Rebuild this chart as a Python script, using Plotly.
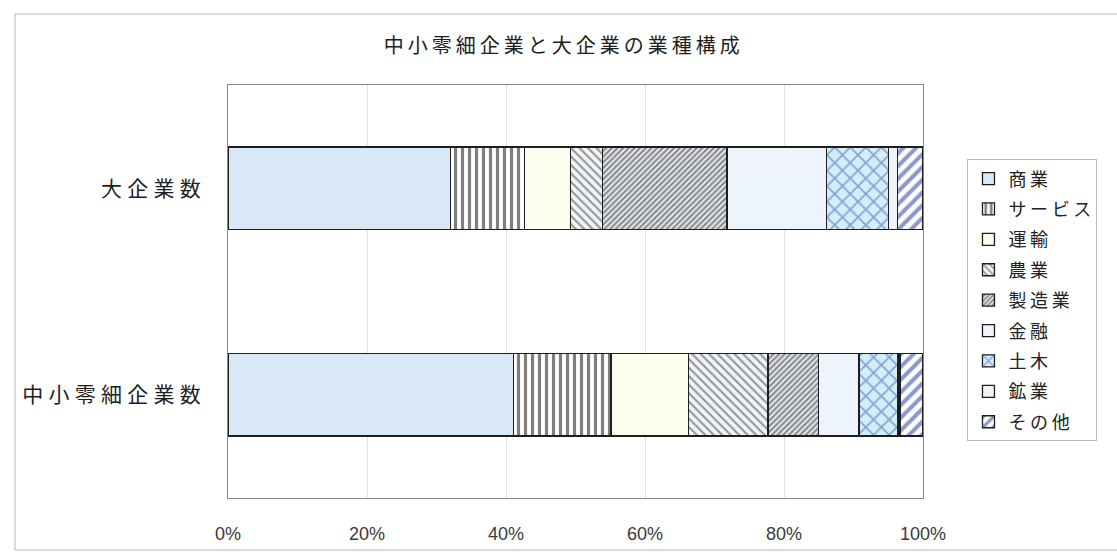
import plotly.graph_objects as go

categories = ["中小零細企業数", "大企業数"]
industries = ["商業", "サービス", "運輸", "農業", "製造業", "金融", "土木", "鉱業", "その他"]
# shares (%) : [中小零細企業数, 大企業数]
shokyo = [41.1, 32.0]
service = [14.0, 10.7]
unyu = [11.2, 6.6]
nogyo = [11.4, 4.6]
seizo = [7.3, 17.9]
kinyu = [5.8, 14.3]
doboku = [5.6, 8.9]
kogyo = [0.3, 1.3]
sonota = [3.3, 3.7]
values = [shokyo, service, unyu, nogyo, seizo, kinyu, doboku, kogyo, sonota]
x_ticks = [0, 20, 40, 60, 80, 100]
x_labels = ["0%", "20%", "40%", "60%", "80%", "100%"]
title_text = "中小零細企業と大企業の業種構成"


def spaced(s, sep):
    return sep.join(list(s))


styles = [
    dict(color="#d9e8f6", pattern=None),
    dict(color="#ffffff", pattern=dict(shape="|", fgcolor="#000000", bgcolor="#ffffff", size=7, solidity=0.45, fillmode="overlay")),
    dict(color="#fdfdee", pattern=None),
    dict(color="#ffffff", pattern=dict(shape="\\", fgcolor="#333333", bgcolor="#f2f5f8", size=6, solidity=0.35, fillmode="overlay")),
    dict(color="#ffffff", pattern=dict(shape="/", fgcolor="#222222", bgcolor="#e6eaee", size=4, solidity=0.5, fillmode="overlay")),
    dict(color="#eef4fb", pattern=None),
    dict(color="#d6ecf8", pattern=dict(shape="x", fgcolor="#2f62a8", bgcolor="#d6ecf8", size=11, solidity=0.3, fillmode="overlay")),
    dict(color="#eef3f8", pattern=None),
    dict(color="#ffffff", pattern=dict(shape="/", fgcolor="#1a2f9e", bgcolor="#ffffff", size=9, solidity=0.45, fillmode="overlay")),
]

fig = go.Figure()
for i, (name, vals, st) in enumerate(zip(industries, values, styles)):
    marker = dict(color=st["color"], line=dict(color="#1e1e1e", width=1.3))
    if st["pattern"]:
        marker["pattern"] = st["pattern"]
    fig.add_trace(go.Bar(
        y=categories, x=vals, name=spaced(name, "\u2009"), orientation="h",
        marker=marker, width=0.4, legendgroup=name,
    ))

ycat_text = [spaced(c, "\u2005") for c in categories]

fig.update_layout(
    barmode="stack",
    width=1117, height=558,
    margin=dict(l=228, r=194, t=85, b=60),
    paper_bgcolor="white", plot_bgcolor="white",
    font=dict(family="Noto Sans CJK JP", size=15, color="#222222"),
    title=dict(text=spaced(title_text, "\u2009"), x=0.503, xanchor="center", y=0.918, yanchor="middle",
               font=dict(family="Noto Sans CJK JP", size=20, color="#1e1e1e")),
    legend=dict(x=1.064, xanchor="left", y=0.82, yanchor="top",
                bordercolor="#bbbbbb", borderwidth=1, traceorder="grouped",
                tracegroupgap=4, itemwidth=30,
                font=dict(family="Noto Sans CJK JP", size=18, color="#222222")),
    showlegend=True,
    shapes=[dict(type="rect", xref="paper", yref="paper",
                 x0=-0.3065, x1=1.3, y0=-0.126, y1=1.172,
                 line=dict(color="#d0d0d0", width=1.5), fillcolor="rgba(0,0,0,0)", layer="below")],
)
fig.update_xaxes(range=[0, 100], tickvals=x_ticks, ticktext=x_labels,
                 showgrid=True, gridcolor="#e0e0e0", gridwidth=1,
                 showline=True, linecolor="#888888", mirror=True, zeroline=False,
                 ticklabelstandoff=19,
                 tickfont=dict(family="Liberation Sans", size=18, color="#3a3a3a"))
fig.update_yaxes(showgrid=False, showline=True, linecolor="#888888", mirror=True,
                 tickvals=categories, ticktext=ycat_text,
                 ticklabelstandoff=22,
                 tickfont=dict(family="Noto Sans CJK JP", size=21, color="#1e1e1e"))

fig.write_html("out.html")
